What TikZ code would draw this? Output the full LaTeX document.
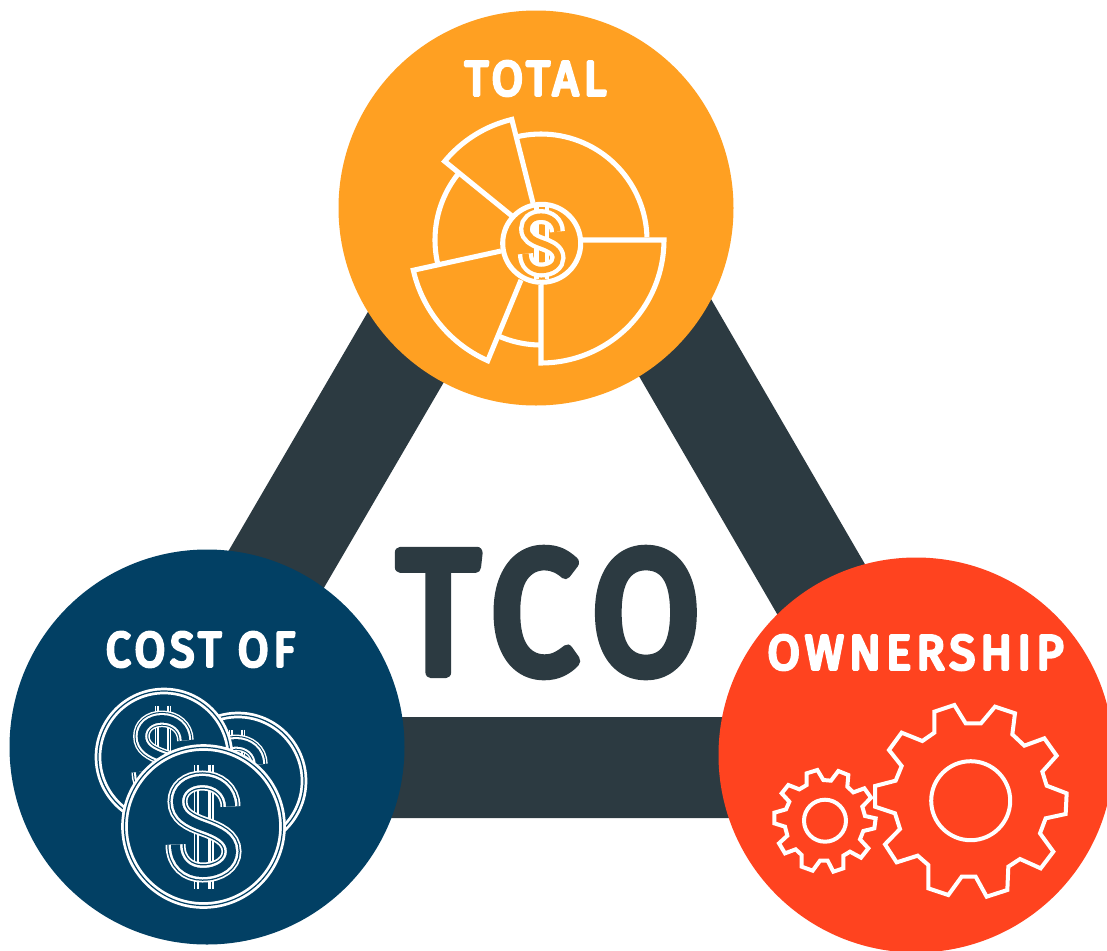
\documentclass[tikz,border=0pt]{standalone}
\usepackage{fontspec}
\setmainfont{Fira Sans}
\newfontfamily\roundfont[FakeBold=7,LetterSpace=11]{Fira Sans}
\newcommand{\rnd}[1]{\special{pdf:code 1 j 1 J}{\roundfont #1}}
\definecolor{tcoorange}{HTML}{FFA022}
\definecolor{tconavy}{HTML}{024064}
\definecolor{tcored}{HTML}{FF431F}
\definecolor{tcodark}{HTML}{2C3A41}
\tikzset{
  disc/.style={circle,draw=none,inner sep=0pt,outer sep=0pt,minimum size=395*0.75pt},
  band/.style={draw=tcodark,line width=75.75pt,line join=round},
  icon/.style={draw=white,line width=3.8pt,line join=miter},
  gearline/.style={draw=white,line width=3pt,line join=miter},
  word/.style={inner sep=0pt,outer sep=0pt,text=white},
}
\newcommand{\dollarsign}[4]{%
  \begin{scope}[shift={(#1,#2)},scale=#3]
    \foreach \w/\c in {#4}{
      \pgfmathsetmacro{\lw}{\w*#3*0.75}
      \draw[line width=\lw pt,color=\c] (0,-62) -- (0,62);
    }
    \foreach \w/\c in {#4}{
      \pgfmathsetmacro{\lw}{\w*#3*0.75}
      \draw[line width=\lw pt,color=\c] (27,-20) .. controls (27,-36) and (14,-46) .. (-1,-46)
        .. controls (-16,-46) and (-26,-37) .. (-26,-25)
        .. controls (-26,-11) and (-14,-5) .. (0,0)
        .. controls (14,5) and (28,11) .. (28,25)
        .. controls (28,37) and (16,46) .. (-1,46)
        .. controls (-16,46) and (-28,36) .. (-28,18);
    }
  \end{scope}}
\newcommand{\coin}[4]{% name x y r
  \node[circle,inner sep=0pt,outer sep=0pt,minimum size=#4*1.5pt,fill=tconavy,draw=white,line width=5pt] (#1) at (#2,#3) {};
  \node[circle,inner sep=0pt,outer sep=0pt,minimum size=#4*1.5pt,draw=tconavy,line width=0.9pt] at (#2,#3) {};
}
\begin{document}
\begin{tikzpicture}[x=0.75pt,y=-0.75pt]
\useasboundingbox (0,0) rectangle (1107,950);
\clip (0,0) rectangle (1107,950);
% triangle
\coordinate (apex) at (543.5,111);
\coordinate (left) at (160.7,767.5);
\coordinate (right) at (924.6,767.5);
\draw[band] (apex) -- (left) -- (right) -- cycle;
% discs
\node[disc,fill=tcoorange] (total) at (536,208) {};
\node[disc,fill=tconavy] (cost) at (207,747) {};
\node[disc,fill=tcored] (own) at (916,755) {};
% words
\node[word] (t1) at (535.5,78.5) {\resizebox{106pt}{25.5pt}{\rnd{TOTAL}}};
\node[word] (t2) at (200.5,649.5) {\resizebox{142pt}{25.5pt}{\rnd{COST OF}}};
\node[word] (t3) at (915.5,652.5) {\resizebox{222pt}{25.5pt}{\rnd{OWNERSHIP}}};
\node[inner sep=0pt,outer sep=0pt,text=tcodark] (tco) at (549,612.5) {\resizebox{226.5pt}{91pt}{\rnd{TCO}}};
% pie icon
\draw[icon] plot[domain=257:358.5,samples=40] ({541+106*cos(\x)},{240+106*sin(\x)});
\draw[icon] plot[domain=218.5:167.4,samples=30] ({541+106*cos(\x)},{240+106*sin(\x)});
\draw[icon] plot[domain=113:90,samples=20] ({541+105*cos(\x)},{240+105*sin(\x)});
\draw[icon] (533,203) -- plot[domain=256.5:219.6,samples=30] ({541+125*cos(\x)},{241+125*sin(\x)}) -- (512,216);
\draw[icon] (582,240) -- plot[domain=0:90,samples=40] ({541+123*cos(\x)},{240+123*sin(\x)}) -- (541,285);
\draw[icon] (501,251) -- plot[domain=167.1:114,samples=30] ({541+131*cos(\x)},{241+131*sin(\x)}) -- (521,280);
\node[circle,draw=white,line width=3.8pt,fill=tcoorange,inner sep=0pt,minimum size=78*0.75pt] (hub) at (541.7,243.3) {};
\dollarsign{541.7}{243.3}{0.58}{26/white,11/tcoorange}
% coins
\coin{coinr}{238}{781}{66}
\dollarsign{237}{781}{0.83}{20/white,16.5/tconavy,14/white,9/tconavy}
\coin{coinl}{164}{757}{66}
\dollarsign{163}{757}{0.83}{20/white,16.5/tconavy,14/white,9/tconavy}
\coin{coinb}{203.5}{826.5}{79}
\dollarsign{203.5}{826.5}{1}{20/white,16.5/tconavy,14/white,9/tconavy}
% gears
\begin{scope}[shift={(760,690)},scale=1/3]
\draw[gearline] (583,45)--(617,100)--(663,100)--(705,50)--(765,70)--(757,133)--(793,167)--(853,145)--(890,197)--(847,245)--(860,287)--(920,310)--(917,372)--(857,385)--(840,430)--(880,485)--(842,535)--(780,507)--(745,530)--(742,600)--(680,620)--(647,560)--(605,560)--(565,615)--(505,595)--(505,525)--(473,497)--(410,517)--(375,463)--(420,417)--(405,370)--(345,350)--(345,288)--(407,272)--(425,228)--(387,180)--(425,128)--(487,153)--(523,128)--(523,65)--cycle;
\draw[gearline] (172,240)--(190,270)--(213,272)--(235,243)--(265,255)--(262,290)--(280,307)--(313,295)--(333,323)--(307,350)--(315,378)--(347,385)--(343,415)--(310,423)--(300,448)--(325,475)--(303,503)--(270,485)--(250,497)--(250,535)--(220,545)--(203,512)--(180,512)--(158,542)--(125,530)--(125,495)--(107,478)--(75,490)--(57,460)--(82,437)--(75,410)--(43,400)--(43,368)--(78,358)--(88,335)--(65,310)--(85,285)--(118,298)--(140,285)--(140,250)--cycle;
\end{scope}
\node[circle,draw=white,line width=3pt,inner sep=0pt,minimum size=79*0.75pt] (hole1) at (970.7,800.7) {};
\node[circle,draw=white,line width=3pt,inner sep=0pt,minimum size=42*0.75pt] (hole2) at (825,820.7) {};
\end{tikzpicture}
\end{document}
